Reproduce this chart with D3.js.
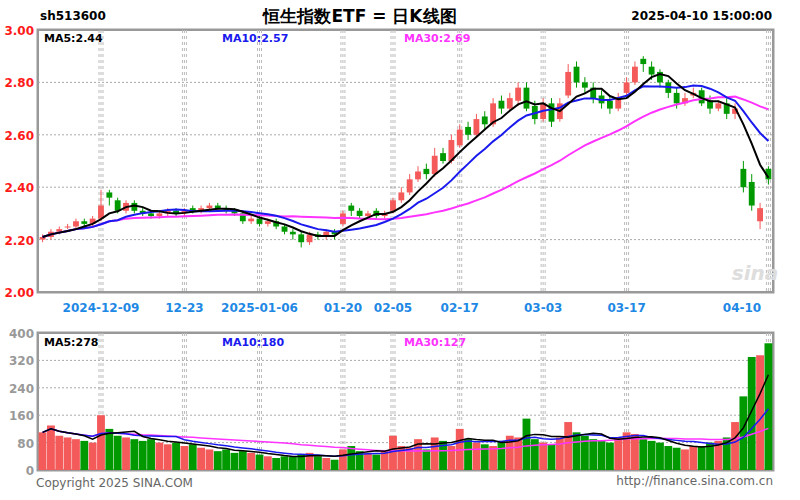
<!DOCTYPE html>
<html><head><meta charset="utf-8">
<script src="https://cdn.jsdelivr.net/npm/d3@7/dist/d3.min.js"></script>
<style>body{margin:0;background:#fff}svg{display:block}text{font-family:"DejaVu Sans",Arial,sans-serif}</style>
</head><body><svg id="c" width="800" height="500"></svg>
<script>
// trading dates (categories)
const dates = (function(){
  const hol = new Set(["2025-01-01","2025-01-28","2025-01-29","2025-01-30","2025-01-31","2025-02-03","2025-02-04","2025-04-04"]);
  const out=[]; let d=new Date(Date.UTC(2024,10,28)); const end=new Date(Date.UTC(2025,3,10));
  while(d<=end){const s=d.toISOString().slice(0,10);const w=d.getUTCDay();if(w>0&&w<6&&!hol.has(s))out.push(s);d=new Date(d.getTime()+864e5);}
  return out;})();
const open = [2.20,2.21,2.23,2.25,2.25,2.27,2.26,2.28,2.38,2.35,2.31,2.34,2.31,2.30,2.29,2.30,2.31,2.30,2.32,2.31,2.32,2.33,2.32,2.31,2.30,2.27,2.28,2.26,2.27,2.25,2.23,2.22,2.19,2.22,2.21,2.23,2.26,2.33,2.31,2.29,2.31,2.29,2.31,2.35,2.38,2.43,2.47,2.45,2.53,2.50,2.56,2.63,2.60,2.67,2.64,2.73,2.70,2.73,2.78,2.71,2.66,2.72,2.66,2.75,2.86,2.80,2.78,2.75,2.73,2.70,2.76,2.80,2.89,2.86,2.84,2.80,2.76,2.72,2.75,2.77,2.73,2.70,2.72,2.68,2.47,2.42,2.27,2.47];
const close= [2.21,2.23,2.24,2.25,2.27,2.26,2.28,2.33,2.36,2.31,2.34,2.31,2.30,2.29,2.30,2.31,2.30,2.31,2.31,2.32,2.33,2.32,2.31,2.30,2.27,2.28,2.26,2.27,2.25,2.23,2.22,2.19,2.22,2.21,2.23,2.22,2.30,2.31,2.29,2.30,2.29,2.30,2.35,2.38,2.43,2.46,2.45,2.52,2.50,2.58,2.62,2.60,2.66,2.64,2.72,2.70,2.74,2.78,2.70,2.66,2.72,2.65,2.72,2.84,2.80,2.78,2.74,2.72,2.70,2.74,2.80,2.86,2.87,2.83,2.80,2.76,2.72,2.74,2.76,2.72,2.70,2.72,2.68,2.70,2.40,2.33,2.32,2.43];
const high = [2.22,2.24,2.25,2.26,2.28,2.28,2.29,2.39,2.39,2.36,2.35,2.35,2.32,2.31,2.31,2.32,2.32,2.32,2.33,2.33,2.34,2.34,2.33,2.32,2.31,2.29,2.29,2.28,2.28,2.26,2.24,2.23,2.23,2.23,2.24,2.24,2.31,2.34,2.32,2.31,2.32,2.31,2.36,2.40,2.45,2.48,2.49,2.55,2.55,2.60,2.64,2.65,2.68,2.69,2.74,2.75,2.76,2.80,2.80,2.73,2.74,2.74,2.74,2.87,2.88,2.82,2.80,2.77,2.75,2.76,2.82,2.88,2.90,2.88,2.85,2.81,2.78,2.76,2.78,2.78,2.75,2.73,2.74,2.72,2.50,2.45,2.34,2.48];
const low  = [2.19,2.20,2.22,2.24,2.24,2.25,2.25,2.27,2.33,2.30,2.30,2.30,2.29,2.28,2.28,2.29,2.29,2.29,2.30,2.30,2.31,2.31,2.30,2.29,2.26,2.26,2.25,2.25,2.24,2.22,2.20,2.17,2.18,2.20,2.20,2.20,2.25,2.29,2.28,2.28,2.28,2.28,2.30,2.34,2.37,2.42,2.43,2.44,2.49,2.49,2.55,2.58,2.59,2.62,2.63,2.68,2.69,2.71,2.69,2.64,2.65,2.63,2.65,2.74,2.78,2.76,2.72,2.70,2.68,2.69,2.75,2.79,2.84,2.81,2.78,2.74,2.70,2.71,2.74,2.71,2.68,2.69,2.66,2.66,2.38,2.31,2.24,2.41];
const volume=[110,130,100,95,90,85,80,160,120,100,95,90,85,90,80,75,80,70,75,65,60,55,60,50,55,50,45,40,35,40,38,45,50,40,35,30,60,70,55,50,45,55,100,70,65,90,60,95,85,70,120,90,80,75,70,85,100,95,150,90,80,75,95,140,110,100,90,85,80,95,110,105,90,85,80,70,65,60,70,70,80,85,95,140,215,330,335,370];
const tickDates=["2024-12-09","2024-12-23","2025-01-06","2025-01-20","2025-02-05","2025-02-17","2025-03-03","2025-03-17","2025-04-10"];
const tickText=["2024-12-09","12-23","2025-01-06","01-20","02-05","02-17","03-03","03-17","04-10"];
const priceTicks=[3.0,2.8,2.6,2.4,2.2,2.0];
const volTicks=[400,320,240,160,80,0];
const priceMALabels=["MA5:2.44","MA10:2.57","MA30:2.69"];
const volMALabels=["MA5:278","MA10:180","MA30:127"];

const svg=d3.select("#c");
const L=38,R=773,T1=30,B1=292,T2=333,B2=470;
const x=d3.scaleBand().domain(dates).range([L,R]).paddingInner(0.3).paddingOuter(0.2);
const y=d3.scaleLinear().domain([2.0,3.0]).range([B1,T1]);
const yv=d3.scaleLinear().domain([0,400]).range([B2,T2]);
const RED="#f45a5a",GRN="#009a00";
const cx=d=>x(d)+x.bandwidth()/2;
function ma(arr,n){return arr.map((v,i)=>{const s=arr.slice(Math.max(0,i-n+1),i+1);return d3.mean(s);});}

function frame(t,b){
  svg.append("rect").attr("x",L).attr("y",t).attr("width",R-L).attr("height",b-t).attr("fill","none").attr("stroke","#999").attr("stroke-width",3);
  svg.append("rect").attr("x",L+1.5).attr("y",t+1.5).attr("width",R-L-3).attr("height",b-t-3).attr("fill","none").attr("stroke","#fff").attr("stroke-width",1);
  tickDates.forEach(dt=>{const xx=cx(dt);
    [-2,0,2].forEach(o=>svg.append("line").attr("x1",xx+o).attr("x2",xx+o).attr("y1",t).attr("y2",b).attr("stroke","#bbb").attr("stroke-dasharray","3,3"));});
}
frame(T1,B1);
priceTicks.forEach(p=>{ if(p<3&&p>2) svg.append("line").attr("x1",L).attr("x2",R).attr("y1",y(p)).attr("y2",y(p)).attr("stroke","#aaa").attr("stroke-dasharray","2,2");
  svg.append("text").attr("x",34).attr("y",y(p)+5).attr("text-anchor","end").attr("fill","#ff1a1a").attr("font-size",12).attr("font-weight","bold").text(p.toFixed(2));});
svg.append("text").attr("x",755).attr("y",280).attr("text-anchor","middle").attr("fill","#ddd").attr("font-size",20).attr("font-weight","bold").attr("font-style","italic").text("sina");
const idx=d3.range(dates.length);
const bw=Math.max(3,x.bandwidth());
svg.append("g").selectAll("g").data(idx).join("g").each(function(i){
  const g=d3.select(this),c=close[i]>=open[i]?RED:GRN;
  g.append("line").attr("x1",cx(dates[i])).attr("x2",cx(dates[i])).attr("y1",y(high[i])).attr("y2",y(low[i])).attr("stroke",c).attr("stroke-width",1);
  g.append("rect").attr("x",x(dates[i])).attr("width",bw).attr("y",y(Math.max(open[i],close[i]))).attr("height",Math.max(1,Math.abs(y(open[i])-y(close[i])))).attr("fill",c);
});
const lineP=d3.line().x((d,i)=>cx(dates[i])).y(d=>y(d));
[[30,"#ff33ff"],[10,"#1a1aee"],[5,"#000"]].forEach(([n,c])=>svg.append("path").attr("d",lineP(ma(close,n))).attr("fill","none").attr("stroke",c).attr("stroke-width",2));
frame(T2,B2);
volTicks.forEach(v=>{ if(v<400&&v>0) svg.append("line").attr("x1",L).attr("x2",R).attr("y1",yv(v)).attr("y2",yv(v)).attr("stroke","#aaa").attr("stroke-dasharray","2,2");
  svg.append("text").attr("x",34).attr("y",yv(v)+5).attr("text-anchor","end").attr("fill","#999").attr("font-size",12).attr("font-weight","bold").text(v);});
svg.append("g").selectAll("rect").data(idx).join("rect").attr("x",i=>x(dates[i])-1).attr("width",bw+2).attr("y",i=>yv(volume[i])).attr("height",i=>B2-yv(volume[i])).attr("fill",i=>close[i]>=open[i]?RED:GRN);
const lineV=d3.line().x((d,i)=>cx(dates[i])).y(d=>yv(d));
[[30,"#ff33ff"],[10,"#1a1aee"],[5,"#000"]].forEach(([n,c])=>svg.append("path").attr("d",lineV(ma(volume,n))).attr("fill","none").attr("stroke",c).attr("stroke-width",1.5));
tickDates.forEach((dt,i)=>svg.append("text").attr("x",i==8?742:cx(dt)).attr("y",312).attr("text-anchor","middle").attr("fill","#1e88e5").attr("font-size",12).attr("font-weight","bold").text(tickText[i]));
const cols=["#000","#1a1aee","#ff33ff"],lx=[44,222,404];
priceMALabels.forEach((t,i)=>svg.append("text").attr("x",lx[i]).attr("y",42).attr("font-size",11).attr("font-weight","bold").attr("fill",cols[i]).text(t));
volMALabels.forEach((t,i)=>svg.append("text").attr("x",lx[i]).attr("y",346).attr("font-size",11).attr("font-weight","bold").attr("fill",cols[i]).text(t));
svg.append("text").attr("x",40).attr("y",20).attr("font-size",12).attr("font-weight","bold").text("sh513600");
svg.append("text").attr("x",360).attr("y",22).attr("text-anchor","middle").attr("font-size",17).attr("font-weight","bold").attr("font-family","Noto Sans CJK SC").text("恒生指数ETF = 日K线图");
svg.append("text").attr("x",772).attr("y",20).attr("text-anchor","end").attr("font-size",12).attr("font-weight","bold").text("2025-04-10 15:00:00");
svg.append("text").attr("x",36).attr("y",487).attr("font-size",12).attr("fill","#666").text("Copyright 2025 SINA.COM");
svg.append("text").attr("x",773).attr("y",485).attr("text-anchor","end").attr("font-size",12).attr("fill","#666").text("http://finance.sina.com.cn");
</script></body></html>
